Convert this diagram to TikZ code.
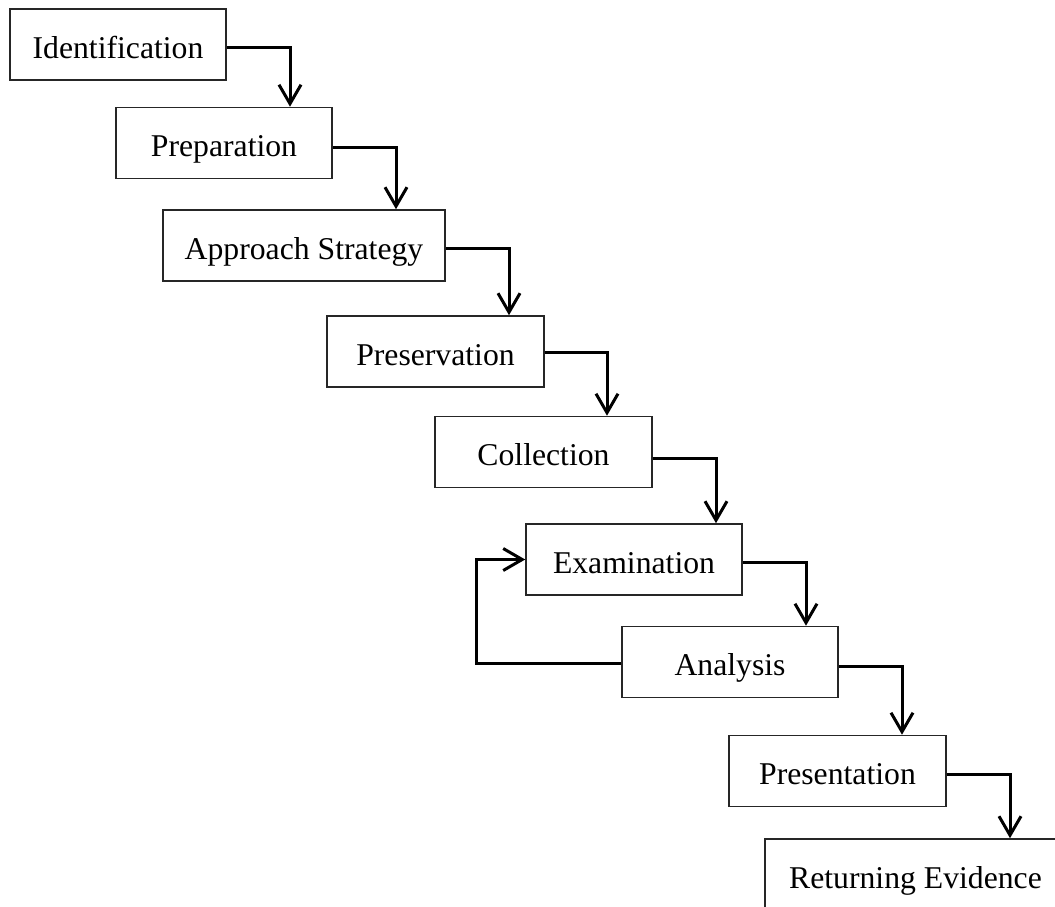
\documentclass[tikz,border=0pt]{standalone}
\usepackage{fontspec}
\setmainfont{Liberation Serif}
\usetikzlibrary{arrows.meta}

\tikzset{
  stage/.style={draw=black!85, line width=0.8pt, inner sep=0pt,
    minimum height=35.5pt, text height=13.5pt, text depth=0pt,
    font=\fontsize{15.85}{19}\selectfont},
  flow/.style={draw=black, line width=1.5pt,
    -{Straight Barb[length=9.5pt,width=11pt,line width=1.5pt]}}
}

\begin{document}
\begin{tikzpicture}[x=0.5pt,y=-0.5pt]
  \clip (0,0) rectangle (1055,906);
  \fill[white] (0,0) rectangle (1055,906);

  % process stages, stepping down to the right
  \node[stage, minimum width=108pt]   (A) at (118,44.5)  {Identification};
  \node[stage, minimum width=108pt]   (B) at (224,143)   {Preparation};
  \node[stage, minimum width=141pt]   (C) at (304,245.5) {Approach Strategy};
  \node[stage, minimum width=108.5pt] (D) at (435.5,351.5) {Preservation};
  \node[stage, minimum width=108.5pt] (E) at (543.5,452) {Collection};
  \node[stage, minimum width=108pt]   (F) at (634,559.5) {Examination};
  \node[stage, minimum width=108pt]   (G) at (730,662)   {Analysis};
  \node[stage, minimum width=108.5pt] (H) at (837.5,771) {Presentation};
  \node[stage, minimum width=150.5pt] (I) at (915.5,874.5) {Returning Evidence};

  % elbow connectors from each stage to the next
  \draw[flow] ([yshift=-1.25pt]A.east) -| ([xshift=33pt]B.north);
  \draw[flow] ([yshift=-2pt]B.east)    -| ([xshift=46pt]C.north);
  \draw[flow] ([yshift=-1.25pt]C.east) -| ([xshift=36.75pt]D.north);
  \draw[flow] ([yshift=-0.25pt]D.east) -| ([xshift=31.75pt]E.north);
  \draw[flow] ([yshift=-3pt]E.east)    -| ([xshift=41pt]F.north);
  \draw[flow] ([yshift=-1.25pt]F.east) -| ([xshift=38pt]G.north);
  \draw[flow] ([yshift=-2pt]G.east)    -| ([xshift=32.25pt]H.north);
  \draw[flow] ([yshift=-1.5pt]H.east)  -| ([xshift=47.25pt]I.north);

  % feedback loop from Analysis back to Examination
  \draw[flow] ([yshift=-0.5pt]G.west) -- ++(-72.5pt,0) |- (F.west);
\end{tikzpicture}
\end{document}
